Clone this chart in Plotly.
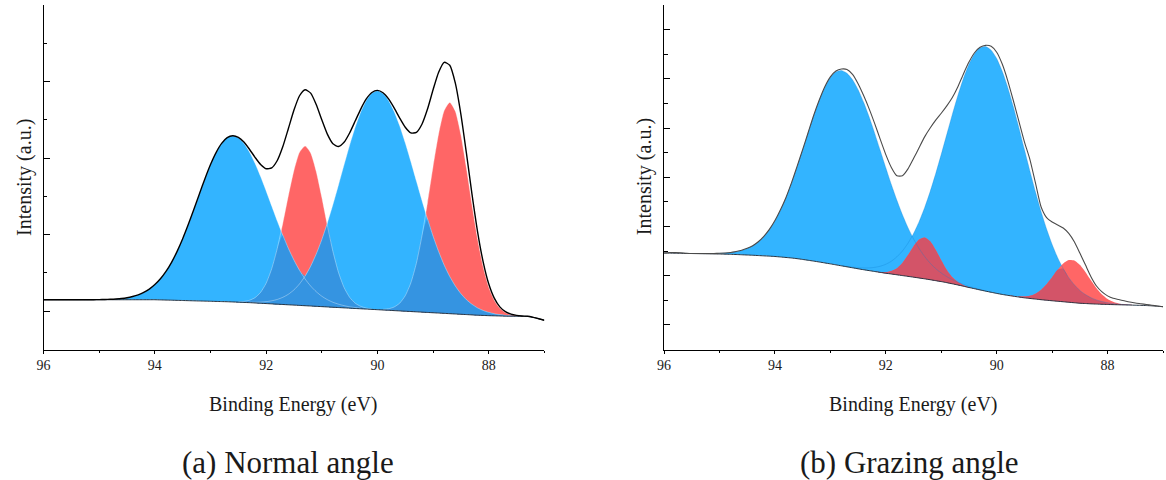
import numpy as np
import plotly.graph_objects as go

# ---------------- data ----------------
# Binding energy grid (eV), shared by both panels
ENERGY = [
    96.0, 95.9, 95.8, 95.7, 95.6, 95.5, 95.4, 95.3, 95.2, 95.1,
    95.0, 94.9, 94.8, 94.7, 94.6, 94.5, 94.4, 94.3, 94.2, 94.1,
    94.0, 93.9, 93.8, 93.7, 93.6, 93.5, 93.4, 93.3, 93.2, 93.1,
    93.0, 92.9, 92.8, 92.7, 92.6, 92.5, 92.4, 92.3, 92.2, 92.1,
    92.0, 91.9, 91.8, 91.7, 91.6, 91.5, 91.4, 91.3, 91.2, 91.1,
    91.0, 90.9, 90.8, 90.7, 90.6, 90.5, 90.4, 90.3, 90.2, 90.1,
    90.0, 89.9, 89.8, 89.7, 89.6, 89.5, 89.4, 89.3, 89.2, 89.1,
    89.0, 88.9, 88.8, 88.7, 88.6, 88.5, 88.4, 88.3, 88.2, 88.1,
    88.0, 87.9, 87.8, 87.7, 87.6, 87.5, 87.4, 87.3, 87.2, 87.1,
    87.0,
]

# ---- (a) Normal angle ----
A_BASELINE = [
    0.150, 0.150, 0.150, 0.150, 0.150, 0.150, 0.150, 0.150, 0.150, 0.150,
    0.150, 0.150, 0.150, 0.150, 0.150, 0.150, 0.150, 0.150, 0.150, 0.150,
    0.150, 0.148, 0.146, 0.144, 0.142, 0.140, 0.138, 0.136, 0.134, 0.132,
    0.130, 0.128, 0.126, 0.124, 0.121, 0.118, 0.115, 0.112, 0.108, 0.104,
    0.100, 0.096, 0.092, 0.088, 0.084, 0.080, 0.076, 0.072, 0.068, 0.064,
    0.060, 0.056, 0.052, 0.048, 0.044, 0.040, 0.036, 0.032, 0.028, 0.024,
    0.020, 0.016, 0.012, 0.008, 0.004, 0.000, -0.004, -0.008, -0.012, -0.016,
    -0.020, -0.024, -0.028, -0.032, -0.036, -0.040, -0.044, -0.048, -0.052, -0.055,
    -0.058, -0.060, -0.062, -0.064, -0.065, -0.066, -0.067, -0.068, -0.080, -0.098,
    -0.118,
]
# components: intensity above baseline, starting at the given energy
A_BLUE1_FROM = 95.0
A_BLUE1 = [
    0.002, 0.003, 0.006, 0.010, 0.016, 0.026, 0.042, 0.064, 0.095, 0.139,
    0.198, 0.276, 0.374, 0.495, 0.640, 0.807, 0.994, 1.193, 1.398, 1.599,
    1.786, 1.944, 2.066, 2.144, 2.170, 2.147, 2.079, 1.968, 1.825, 1.656,
    1.471, 1.278, 1.086, 0.904, 0.736, 0.587, 0.458, 0.349, 0.261, 0.191,
    0.136, 0.095, 0.065, 0.044, 0.029, 0.018, 0.012, 0.007, 0.004, 0.002,
]
A_RED1_FROM = 92.6
A_RED1 = [
    0.002, 0.005, 0.013, 0.031, 0.069, 0.142,
    0.266, 0.459, 0.729, 1.065, 1.429, 1.762, 2.000, 2.085, 2.000, 1.762,
    1.429, 1.065, 0.729, 0.459, 0.266, 0.142, 0.069, 0.031, 0.013, 0.005,
    0.002,
]
A_BLUE2_FROM = 92.5
A_BLUE2 = [
    0.002, 0.003, 0.005, 0.009, 0.015,
    0.025, 0.040, 0.062, 0.094, 0.138, 0.199, 0.281, 0.387, 0.520, 0.683,
    0.875, 1.097, 1.341, 1.601, 1.868, 2.128, 2.367, 2.571, 2.728, 2.826,
    2.860,
    2.830, 2.742, 2.602, 2.418, 2.200, 1.960, 1.709, 1.460, 1.221,
    1.001, 0.803, 0.630, 0.485, 0.365, 0.269, 0.194, 0.138, 0.095, 0.065,
    0.043, 0.028, 0.018, 0.011, 0.007, 0.004, 0.002, 0.001,
]
A_RED2_FROM = 90.1
A_RED2 = [
    0.001, 0.003,
    0.008, 0.020, 0.047, 0.101, 0.203, 0.373, 0.635, 0.995, 1.436,
    1.912, 2.344, 2.650, 2.760, 2.650, 2.344, 1.912, 1.436, 0.995, 0.635,
    0.373, 0.203, 0.101, 0.047, 0.020, 0.008, 0.003, 0.001,
]

# ---- (b) Grazing angle ----
B_BASELINE = [
    1.460, 1.458, 1.456, 1.454, 1.452, 1.450, 1.448, 1.446, 1.444, 1.442,
    1.440, 1.437, 1.434, 1.430, 1.425, 1.420, 1.415, 1.409, 1.403, 1.397,
    1.390, 1.380, 1.370, 1.359, 1.346, 1.330, 1.313, 1.296, 1.278, 1.259,
    1.240, 1.220, 1.200, 1.180, 1.160, 1.140, 1.121, 1.103, 1.085, 1.067,
    1.050, 1.034, 1.018, 1.002, 0.986, 0.970, 0.953, 0.936, 0.918, 0.899,
    0.880, 0.858, 0.835, 0.811, 0.786, 0.760, 0.735, 0.710, 0.686, 0.663,
    0.640, 0.619, 0.600, 0.583, 0.566, 0.550, 0.537, 0.524, 0.512, 0.501,
    0.490, 0.480, 0.470, 0.460, 0.450, 0.440, 0.434, 0.428, 0.423, 0.419,
    0.415, 0.412, 0.409, 0.406, 0.403, 0.400, 0.397, 0.393, 0.387, 0.379,
    0.370,
]
B_ENVELOPE = [
    1.46, 1.47, 1.47, 1.465, 1.455, 1.45, 1.45, 1.45, 1.45, 1.452,
    1.455, 1.46, 1.47, 1.49, 1.515, 1.555, 1.61, 1.69, 1.80, 1.94,
    2.12, 2.34, 2.59, 2.89, 3.22, 3.56, 3.91, 4.26, 4.57, 4.84,
    5.04, 5.16, 5.20, 5.19, 5.09, 4.90, 4.66, 4.39, 4.09, 3.77,
    3.46, 3.20, 3.03, 3.03, 3.17, 3.38, 3.60, 3.82, 4.00, 4.16,
    4.30, 4.45, 4.62, 4.84, 5.10, 5.34, 5.53, 5.64, 5.68, 5.66,
    5.54, 5.30, 4.96, 4.56, 4.14, 3.72, 3.36, 2.88, 2.40, 2.18,
    2.09, 2.03, 1.97, 1.86, 1.69, 1.46, 1.22, 0.98, 0.79, 0.67,
    0.59, 0.54, 0.515, 0.49, 0.465, 0.445, 0.43, 0.415, 0.40, 0.385,
    0.37,
]
B_BLUE1_FROM = 95.3
B_BLUE1 = [
    0.002, 0.004, 0.008,
    0.013, 0.021, 0.035, 0.055, 0.086, 0.130, 0.192, 0.277, 0.390, 0.537,
    0.723, 0.949, 1.215, 1.522, 1.862, 2.223, 2.592, 2.954, 3.285, 3.569,
    3.787, 3.922, 3.970, 3.932, 3.820, 3.640, 3.402, 3.120, 2.806, 2.475,
    2.141, 1.817, 1.513, 1.236, 0.990, 0.778, 0.599, 0.453, 0.336, 0.245,
    0.174, 0.122, 0.084, 0.056, 0.037, 0.024, 0.015, 0.010, 0.006, 0.004,
    0.002,
]
B_RED1_FROM = 92.2
B_RED1 = [
    0.002, 0.007,
    0.022, 0.059, 0.132, 0.257, 0.432, 0.625, 0.780, 0.840, 0.780, 0.625,
    0.432, 0.257, 0.132, 0.059, 0.022, 0.007, 0.002,
]
B_BLUE2_FROM = 93.0
B_BLUE2 = [
    0.002, 0.003, 0.005, 0.008, 0.014, 0.022, 0.036, 0.055, 0.084, 0.125,
    0.182, 0.260, 0.365, 0.500, 0.673, 0.886, 1.144, 1.446, 1.791, 2.175,
    2.586, 3.014, 3.442, 3.851, 4.221, 4.534, 4.771, 4.919, 4.970, 4.919,
    4.771, 4.534, 4.221, 3.851, 3.442, 3.014, 2.586, 2.175, 1.791, 1.446,
    1.144, 0.886, 0.673, 0.500, 0.365, 0.260, 0.182, 0.125, 0.084, 0.055,
    0.036, 0.022, 0.014, 0.008, 0.005, 0.003, 0.002,
]
B_RED2_FROM = 89.8
B_RED2 = [
    0.001, 0.004, 0.011, 0.026, 0.056, 0.111, 0.199, 0.324,
    0.478, 0.641, 0.780, 0.859, 0.859, 0.780, 0.641, 0.478, 0.324, 0.199,
    0.111, 0.056, 0.026, 0.011, 0.004, 0.001,
]

X_TICKS = [96, 94, 92, 90, 88]
X_TITLE = "Binding Energy (eV)"
Y_TITLE = "Intensity (a.u.)"
CAPTIONS = ["(a) Normal angle", "(b) Grazing angle"]

# ---------------- helpers ----------------
BLUE = "#33B4FF"
RED = "#FF6666"
DARK_BLUE = "#3594E1"
CRIMSON = "#D35468"
FONT = "Liberation Serif, DejaVu Serif, Times New Roman, serif"
TXT = "#1a1a1a"


def on_grid(start, values):
    i0 = ENERGY.index(start)
    out = np.zeros(len(ENERGY))
    out[i0:i0 + len(values)] = values
    return out


def band(fig, base, top, color, xa, ya):
    fig.add_trace(go.Scatter(x=ENERGY, y=list(base), mode="lines",
                             line=dict(width=0, color=color, shape="spline", smoothing=0.6),
                             hoverinfo="skip", showlegend=False, xaxis=xa, yaxis=ya))
    fig.add_trace(go.Scatter(x=ENERGY, y=list(top), mode="lines", fill="tonexty",
                             fillcolor=color,
                             line=dict(width=0, color=color, shape="spline", smoothing=0.6),
                             hoverinfo="skip", showlegend=False, xaxis=xa, yaxis=ya))


def edge(fig, base, comp, color, width, xa, ya):
    y = [float(b + c) if c > 0.004 else None for b, c in zip(base, comp)]
    fig.add_trace(go.Scatter(x=ENERGY, y=y, mode="lines",
                             line=dict(width=width, color=color, shape="spline", smoothing=0.6),
                             hoverinfo="skip", showlegend=False, connectgaps=False,
                             xaxis=xa, yaxis=ya))


def line(fig, y, color, width, xa, ya):
    fig.add_trace(go.Scatter(x=ENERGY, y=list(y), mode="lines",
                             line=dict(width=width, color=color, shape="spline", smoothing=0.6),
                             hoverinfo="skip", showlegend=False, xaxis=xa, yaxis=ya))


fig = go.Figure()

# ---------------- panel (a) ----------------
a_base = np.array(A_BASELINE)
a_b1 = on_grid(A_BLUE1_FROM, A_BLUE1)
a_r1 = on_grid(A_RED1_FROM, A_RED1)
a_b2 = on_grid(A_BLUE2_FROM, A_BLUE2)
a_r2 = on_grid(A_RED2_FROM, A_RED2)
a_stack = np.vstack([a_b1, a_r1, a_b2, a_r2])
a_second = np.sort(a_stack, axis=0)[-2]          # region covered by two components
a_env = a_base + a_stack.sum(axis=0)

for comp, col in [(a_r1, RED), (a_r2, RED), (a_b1, BLUE), (a_b2, BLUE)]:
    band(fig, a_base, a_base + comp, col, "x", "y")
band(fig, a_base, a_base + a_second, DARK_BLUE, "x", "y")
for comp in [a_b1, a_b2, a_r1, a_r2]:
    edge(fig, a_base, comp, "rgba(255,255,255,0.35)", 1.0, "x", "y")
line(fig, a_base, "#2b3440", 1.0, "x", "y")
line(fig, a_env, "#000000", 1.4, "x", "y")

# ---------------- panel (b) ----------------
b_base = np.array(B_BASELINE)
b_b1 = on_grid(B_BLUE1_FROM, B_BLUE1)
b_r1 = on_grid(B_RED1_FROM, B_RED1)
b_b2 = on_grid(B_BLUE2_FROM, B_BLUE2)
b_r2 = on_grid(B_RED2_FROM, B_RED2)
b_blue_max = np.maximum(b_b1, b_b2)

for comp, col in [(b_b1, BLUE), (b_b2, BLUE), (b_r1, RED), (b_r2, RED)]:
    band(fig, b_base, b_base + comp, col, "x2", "y2")
for red in [b_r1, b_r2]:
    band(fig, b_base, b_base + np.minimum(red, b_blue_max), CRIMSON, "x2", "y2")
for comp in [b_b1, b_b2]:
    edge(fig, b_base, comp, "rgba(20,130,210,0.3)", 1.0, "x2", "y2")
line(fig, b_base, "#2b3440", 1.0, "x2", "y2")
line(fig, B_ENVELOPE, "#4a4a4a", 1.1, "x2", "y2")

# ---------------- layout ----------------
W, H = 1166, 480
Y_DOM = [1 - 349.5 / H, 1 - 5.0 / H]


def xaxis(dom, anchor):
    return dict(domain=dom, anchor=anchor, range=[96, 87], tickmode="array",
                tickvals=X_TICKS, ticktext=[str(v) for v in X_TICKS],
                ticks="outside", ticklen=3, tickwidth=1, tickcolor="black",
                showline=True, linecolor="black", linewidth=1.2,
                showgrid=False, zeroline=False,
                tickfont=dict(family=FONT, size=14, color=TXT),
                minor=dict(dtick=1, tick0=0, ticks="outside", ticklen=2,
                           tickcolor="black", tickwidth=1, showgrid=False))


def yaxis(rng, anchor):
    return dict(domain=Y_DOM, anchor=anchor, range=rng, tick0=0, dtick=1,
                ticks="inside", ticklen=6, tickwidth=1, tickcolor="black",
                showticklabels=False, showline=True, linecolor="black",
                linewidth=1.2, showgrid=False, zeroline=False,
                minor=dict(dtick=0.5, tick0=0, ticks="inside", ticklen=3.5,
                           tickcolor="black", tickwidth=1, showgrid=False))


fig.update_layout(
    width=W, height=H, autosize=False,
    margin=dict(l=0, r=0, t=0, b=0),
    paper_bgcolor="white", plot_bgcolor="white", showlegend=False,
    font=dict(family=FONT, color=TXT),
    xaxis=xaxis([36.8 / W, 540.6 / W], "y"),
    yaxis=yaxis([-0.5, 4.0005], "x"),
    xaxis2=xaxis([661.0 / W, 1163.0 / W], "y2"),
    yaxis2=yaxis([-0.5, 6.5], "x2"),
)

ann = []
for cx, ylx in [(288.7, 17.0), (912.0, 641.0)]:
    ann.append(dict(text=X_TITLE, x=cx / W, y=1 - 404 / H, xref="paper", yref="paper",
                    showarrow=False, xanchor="center", yanchor="middle",
                    font=dict(family=FONT, size=20, color=TXT)))
    ann.append(dict(text=Y_TITLE, x=ylx / W, y=1 - 177 / H, xref="paper", yref="paper",
                    showarrow=False, xanchor="center", yanchor="middle", textangle=-90,
                    font=dict(family=FONT, size=20, color=TXT)))
for cx, cap in zip([283.0, 908.0], CAPTIONS):
    ann.append(dict(text=cap, x=cx / W, y=1 - 462 / H, xref="paper", yref="paper",
                    showarrow=False, xanchor="center", yanchor="middle",
                    font=dict(family=FONT, size=31, color=TXT)))
fig.update_layout(annotations=ann)

fig.write_html(
    "out.html",
    config={"displayModeBar": False},
    post_script="document.body.style.margin='0';document.body.style.overflow='hidden';",
)
